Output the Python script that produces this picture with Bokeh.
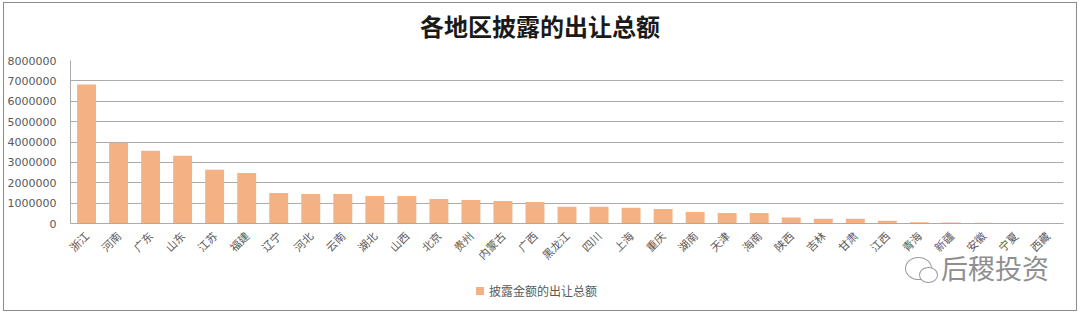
from bokeh.plotting import figure
from bokeh.models import (FactorRange, Range1d, FixedTicker, BasicTickFormatter, Div,
                          ColumnDataSource)
from bokeh.layouts import column
from bokeh.embed import file_html
from bokeh.resources import INLINE
import math

regions = ["浙江", "河南", "广东", "山东", "江苏", "福建", "辽宁", "河北", "云南", "湖北",
           "山西", "北京", "贵州", "内蒙古", "广西", "黑龙江", "四川", "上海", "重庆", "湖南",
           "天津", "海南", "陕西", "吉林", "甘肃", "江西", "青海", "新疆", "安徽", "宁夏", "西藏"]
amounts = [6820000, 3960000, 3570000, 3320000, 2640000, 2480000, 1500000, 1450000, 1450000, 1350000,
           1350000, 1200000, 1150000, 1100000, 1050000, 820000, 820000, 770000, 710000, 560000,
           520000, 520000, 300000, 230000, 230000, 130000, 60000, 50000, 40000, 10000, 5000]
y_ticks = [0, 1000000, 2000000, 3000000, 4000000, 5000000, 6000000, 7000000, 8000000]
title_text = "各地区披露的出让总额"
series_name = "披露金额的出让总额"
watermark = "后稷投资"

BAR = "#F4B183"
GRID = "#ABABAB"
TXT = "#595959"
CJK = "Noto Sans CJK SC"

src = ColumnDataSource(dict(region=regions, amount=amounts))

# ---- title strip ----
title_div = Div(width=1080, height=45, margin=0,
                text=(f'<div style="position:relative;width:1080px;height:45px;">'
                      f'<div style="position:absolute;left:0;top:9px;width:1080px;text-align:center;'
                      f'font-family:\'{CJK}\';font-size:24px;font-weight:bold;line-height:34px;'
                      f'color:#1a1a1a;white-space:nowrap;">{title_text}</div></div>'))

# ---- chart ----
p = figure(width=1080, height=228, output_backend="svg", toolbar_location=None,
           x_range=FactorRange(*regions, range_padding=0), y_range=Range1d(0, 8000000),
           min_border_left=70, min_border_right=17, min_border_top=15, min_border_bottom=50,
           margin=0)
p.outline_line_color = None
p.background_fill_color = "white"
p.border_fill_color = "white"

r = p.vbar(x="region", top="amount", width=0.59, source=src, fill_color=BAR, line_color=None)

p.yaxis.ticker = FixedTicker(ticks=y_ticks)
p.yaxis.formatter = BasicTickFormatter(use_scientific=False)
p.yaxis.major_label_text_font = "DejaVu Sans"
p.yaxis.major_label_text_font_size = "11px"
p.yaxis.major_label_text_color = TXT
p.yaxis.major_tick_line_color = None
p.yaxis.minor_tick_line_color = None
p.yaxis.axis_line_color = GRID
p.yaxis.major_label_standoff = 8

p.xaxis.major_label_orientation = math.pi / 4
p.xaxis.major_label_text_font = CJK
p.xaxis.major_label_text_font_size = "11px"
p.xaxis.major_label_text_color = TXT
p.xaxis.major_tick_line_color = None
p.xaxis.axis_line_color = GRID
p.xaxis.major_label_standoff = 4

p.xgrid.grid_line_color = None
p.ygrid.grid_line_color = GRID
p.ygrid.grid_line_width = 1

# ---- legend + watermark strip (+ chart-area border overlay) ----
bottom_html = (
    f'<div style="position:relative;width:1080px;height:43px;">'
    # legend
    f'<div style="position:absolute;left:476px;top:14px;width:8px;height:8px;background:{BAR};"></div>'
    f'<div style="position:absolute;left:489px;top:9px;font-family:\'{CJK}\';font-size:12px;'
    f'line-height:18px;color:{TXT};white-space:nowrap;">{series_name}</div>'
    # watermark icon (two speech bubbles)
    f'<div style="position:absolute;left:905px;top:-16px;width:27px;height:23px;border:1.5px solid #9a9a9a;'
    f'border-radius:50%;"></div>'
    f'<div style="position:absolute;left:919px;top:-6px;width:19px;height:16px;border:1.5px solid #9a9a9a;'
    f'border-radius:50%;background:white;"></div>'
    # watermark text
    f'<div style="position:absolute;left:941px;top:-21px;font-family:\'{CJK}\';font-size:27px;'
    f'line-height:32px;color:#8f8f8f;white-space:nowrap;">{watermark}</div>'
    # chart-area border
    f'<div style="position:absolute;left:3px;top:-271px;width:1074px;height:309px;box-sizing:border-box;'
    f'border:1px solid #8c8c8c;pointer-events:none;"></div>'
    f'</div>')
bottom_div = Div(width=1080, height=43, margin=0, text=bottom_html,
                 styles={"overflow": "visible"})

layout = column(title_div, p, bottom_div, spacing=0, margin=0)

open("out.html", "w").write(file_html(layout, INLINE))
